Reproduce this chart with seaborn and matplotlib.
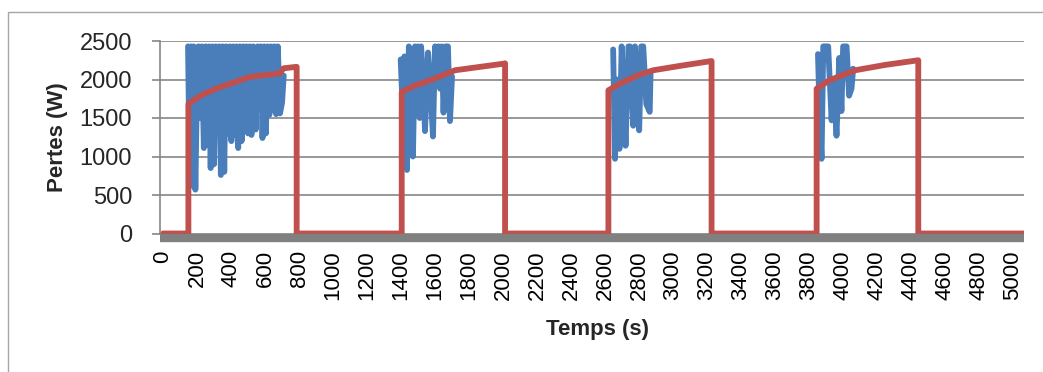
import matplotlib
matplotlib.use("Agg")
import matplotlib.pyplot as plt
from matplotlib.patches import Rectangle
import numpy as np
import pandas as pd
import seaborn as sns

# losses (W) vs time (s)
red_t = [0, 149, 149, 159, 220, 316, 512, 688, 708, 786, 786,
         1404, 1404, 1480, 1571, 1718, 2002, 2012, 2012,
         2620, 2620, 2700, 2800, 2884, 3050, 3227, 3227,
         3845, 3845, 3920, 4071, 4250, 4443, 4443, 5065]
red_p = [0, 0, 1680, 1700, 1790, 1885, 2035, 2080, 2145, 2165, 0,
         0, 1840, 1920, 1990, 2120, 2205, 2210, 0,
         0, 1860, 1960, 2060, 2120, 2180, 2240, 0,
         0, 1880, 1990, 2120, 2190, 2250, 0, 0]

blue_t1 = [147, 156, 164, 172, 180, 190, 200, 208, 218, 228, 240, 250, 262, 270,
           280, 290, 300, 310, 322, 330, 340, 350, 360, 370, 380, 392, 402, 412,
           422, 432, 442, 452, 462, 472, 482, 490, 500, 510, 520, 530, 545, 557,
           565, 575, 585, 595, 605, 615, 625, 635, 645, 655, 665, 675, 688, 700,
           710]
blue_p1 = [2430, 900, 2430, 620, 2430, 570, 1950, 2430, 1500, 2430, 1110, 2430, 1150, 2430,
           850, 2430, 900, 2430, 1700, 2430, 760, 2430, 800, 2430, 1300, 2430, 1200, 2430,
           1280, 2430, 1110, 2430, 1200, 2430, 1500, 2430, 1300, 2430, 1280, 2430, 1350, 2430,
           1700, 2430, 1240, 2430, 1300, 2430, 1540, 2430, 1600, 2430, 1550, 2430, 1560, 1700,
           2050]

blue_t2 = [1398, 1412, 1420, 1435, 1446, 1458, 1470, 1482, 1492, 1500, 1510, 1518,
           1530, 1541, 1559, 1575, 1588, 1600, 1612, 1620, 1630, 1640, 1650, 1662,
           1676, 1688, 1700]
blue_p2 = [2260, 1500, 2300, 825, 2430, 1800, 1000, 2430, 1700, 2430, 1500, 2430,
           2000, 1330, 2350, 1800, 1260, 2430, 2000, 2430, 1880, 2430, 1570, 2430,
           2430, 1460, 2040]

blue_t3 = [2648, 2659, 2670, 2685, 2698, 2710, 2721, 2738, 2747, 2766, 2776, 2790,
           2801, 2813, 2825, 2843, 2863, 2868]
blue_p3 = [2390, 970, 2000, 1100, 2430, 1800, 1140, 2430, 2430, 1400, 2430, 1900,
           1340, 2430, 2430, 1680, 1580, 2080]

blue_t4 = [3853, 3862, 3874, 3884, 3900, 3913, 3933, 3945, 3962, 3978, 3991, 4001,
           4021, 4036, 4050, 4060]
blue_p4 = [2330, 1600, 970, 2430, 2430, 2430, 1470, 1980, 1270, 2280, 1590, 2430,
           2430, 1790, 1880, 2140]

x_ticks = list(range(0, 5001, 200))
y_ticks = [0, 500, 1000, 1500, 2000, 2500]

BLUE = "#4a7ebb"
RED = "#c0504d"
GRAY = "#868686"

blue = pd.concat([
    pd.DataFrame({"t": t, "p": p, "cycle": i})
    for i, (t, p) in enumerate([(blue_t1, blue_p1), (blue_t2, blue_p2),
                                (blue_t3, blue_p3), (blue_t4, blue_p4)])
])
red = pd.DataFrame({"t": red_t, "p": red_p})

sns.set_style("white")
plt.rcParams["font.family"] = ["Liberation Sans", "DejaVu Sans"]

fig = plt.figure(figsize=(10.43, 3.72), dpi=100)
ax = fig.add_axes([160 / 1043, 1 - 233.5 / 372, (1024 - 160) / 1043, 192.5 / 372])

sns.lineplot(data=blue, x="t", y="p", units="cycle", estimator=None, sort=False,
             color=BLUE, lw=4.2, solid_joinstyle="round", solid_capstyle="round", ax=ax)
sns.lineplot(data=red, x="t", y="p", estimator=None, sort=False,
             color=RED, lw=4.2, solid_joinstyle="round", ax=ax)

ax.set_xlim(-18, 5065)
ax.set_ylim(0, 2500)
ax.set_xticks(x_ticks)
ax.set_yticks(y_ticks)
ax.set_xlabel("")
ax.set_ylabel("")

ax.grid(axis="y", color=GRAY, lw=1.2)
ax.set_axisbelow(True)
for s in ["top", "right"]:
    ax.spines[s].set_visible(False)
ax.spines["left"].set_color(GRAY)
ax.spines["left"].set_linewidth(1.2)
# thick grey horizontal axis line sitting just under the zero line
ax.spines["bottom"].set_color("#808080")
ax.spines["bottom"].set_linewidth(6)
ax.spines["bottom"].set_capstyle("butt")
ax.spines["bottom"].set_position(("outward", 3))
ax.tick_params(axis="y", length=6, width=1.2, color=GRAY, pad=14, left=True,
               labelsize=17)
ax.tick_params(axis="x", length=0, pad=9, labelrotation=90, labelsize=16,
               labelcolor="black")

fig.text(57 / 1043, 1 - 137 / 372, "Pertes (W)", rotation=90, ha="center", va="center",
         fontsize=16, fontweight="bold")
fig.text(597 / 1043, 1 - 330 / 372, "Temps (s)", ha="center", va="center",
         fontsize=16, fontweight="bold")

fig.add_artist(Rectangle((8 / 1043, -0.1), 1.1, 1 - 12 / 372 + 0.1, transform=fig.transFigure,
                         fill=False, ec="#a6a6a6", lw=1))

fig.savefig("out.png", dpi=100)
